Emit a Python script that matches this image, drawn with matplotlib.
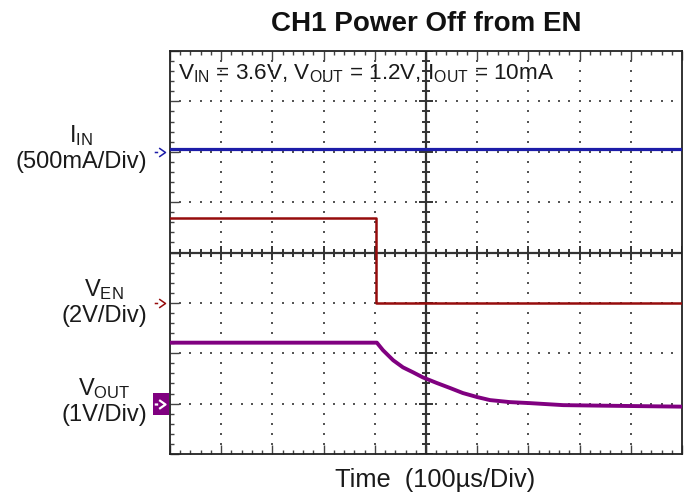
import matplotlib
matplotlib.use('Agg')
import matplotlib.pyplot as plt
import numpy as np
from matplotlib.collections import LineCollection
from matplotlib.patches import Rectangle
from matplotlib.path import Path
from matplotlib.transforms import blended_transform_factory

plt.rcParams['font.family'] = ['Liberation Sans', 'DejaVu Sans']
plt.rcParams['mathtext.fontset'] = 'custom'
plt.rcParams['mathtext.rm'] = 'Liberation Sans'
plt.rcParams['mathtext.it'] = 'Liberation Sans:italic'
plt.rcParams['mathtext.bf'] = 'Liberation Sans:bold'

# ---------------- data ----------------
title = "CH1 Power Off from EN"
conditions = r"V$_\mathregular{IN}$ = 3.6V, V$_\mathregular{OUT}$ = 1.2V, I$_\mathregular{OUT}$ = 10mA"
x_label = "Time  (100\u00b5s/Div)"
ch_labels = [r"I$_\mathregular{IN}$" + "\n(500mA/Div)",
             r"V$_\mathregular{EN}$" + "\n(2V/Div)",
             r"V$_\mathregular{OUT}$" + "\n(1V/Div)"]

# time base: 100 us/div, 10 divisions
time_per_div_us = 100

# IIN channel (mA), 500 mA/div, zero marker at +2 div
iin_time_us = [-500, 500]
iin_mA = [25, 25]
iin_scale, iin_zero_div = 500, 2.0

# VEN channel (V), 2 V/div, zero marker at -1 div
ven_time_us = [-500, -98, -98, 500]
ven_V = [3.35, 3.35, 0.0, 0.0]
ven_scale, ven_zero_div = 2.0, -1.0

# VOUT channel (V), 1 V/div, zero marker at -3 div
vout_time_us = [-500, -96, -84, -64, -45, -25, -6, 21, 47, 72, 100, 125, 164, 203, 268, 340, 500]
vout_V = [1.21, 1.21, 1.06, 0.86, 0.72, 0.62, 0.52, 0.41, 0.31, 0.21, 0.13, 0.07, 0.03, 0.01, -0.03, -0.04, -0.06]
vout_scale, vout_zero_div = 1.0, -3.0

c_iin = '#1c1ca8'
c_ven = '#960c0c'
c_vout = '#800080'

# ---------------- figure ----------------
W, H = 696, 497
fig = plt.figure(figsize=(W / 100, H / 100), dpi=100)
ax_l, ax_r, ax_t, ax_b = 170, 682, 51, 454
ax = fig.add_axes([ax_l / W, (H - ax_b) / H, (ax_r - ax_l) / W, (ax_b - ax_t) / H])

ndx, ndy = 10, 8
xmin, xmax = -ndx / 2 * time_per_div_us, ndx / 2 * time_per_div_us
ax.set_xlim(xmin, xmax)
ax.set_ylim(-ndy / 2, ndy / 2)

# border ticks
ax.set_xticks(np.arange(xmin, xmax + 1, time_per_div_us))
ax.set_xticks(np.arange(xmin, xmax + 1, time_per_div_us / 5), minor=True)
ax.set_yticks(np.arange(-4, 4.01, 1))
ax.set_yticks(np.arange(-4, 4.01, 0.2), minor=True)
ax.tick_params(which='both', direction='in', top=True, right=True,
               labelbottom=False, labelleft=False, color='#444444', width=1)
ax.tick_params(which='major', length=6.5)
ax.tick_params(which='minor', length=3)
for s in ax.spines.values():
    s.set_color('#222222')
    s.set_linewidth(1.3)

# dotted grid
px_x = (ax_r - ax_l) / (xmax - xmin)  # px per us
px_y = (ax_b - ax_t) / ndy            # px per div
dots_x, dots_y = [], []
for gx in np.arange(xmin + time_per_div_us, xmax, time_per_div_us):
    if abs(gx) < 1e-9:
        continue
    ys = np.arange(-4, 4.001, 0.2)[1:-1]
    dots_x += [gx] * len(ys)
    dots_y += list(ys)
for gy in np.arange(-3, 3.01, 1):
    if abs(gy) < 1e-9:
        continue
    xs = np.arange(xmin, xmax + 0.1, time_per_div_us / 5)[1:-1]
    dots_x += list(xs)
    dots_y += [gy] * len(xs)
ax.scatter(dots_x, dots_y, s=2.6, marker='s', color='#555555', linewidths=0, zorder=1)

# center axes with ticks
ax.axhline(0, color='#333333', lw=1.6, zorder=2)
ax.axvline(0, color='#333333', lw=1.6, zorder=2)
segs = []
for i, tx in enumerate(np.arange(xmin, xmax + 0.1, time_per_div_us / 5)):
    h = (7 if i % 5 == 0 else 4) / px_y
    segs.append([(tx, -h), (tx, h)])
for i, ty in enumerate(np.arange(-4, 4.001, 0.2)):
    w = (7 if i % 5 == 0 else 4) / px_x
    segs.append([(-w, ty), (w, ty)])
ax.add_collection(LineCollection(segs, colors='#333333', linewidths=1.4, zorder=2))

# channel axes
def channel_axes(scale, zero_div):
    a = ax.twinx()
    a.set_ylim((-ndy / 2 - zero_div) * scale, (ndy / 2 - zero_div) * scale)
    a.set_axis_off()
    return a

a_iin = channel_axes(iin_scale, iin_zero_div)
a_ven = channel_axes(ven_scale, ven_zero_div)
a_vout = channel_axes(vout_scale, vout_zero_div)

a_iin.plot(iin_time_us, iin_mA, color=c_iin, lw=2.3)
a_ven.plot(ven_time_us, ven_V, color=c_ven, lw=1.8)
a_vout.plot(vout_time_us, vout_V, color=c_vout, lw=2.8)

# ground markers "->"
arrow_path = Path([(-1.0, 0.0), (-0.68, 0.0), (-0.59, 0.41), (0.0, 0.0), (-0.59, -0.41)],
                  [Path.MOVETO, Path.LINETO, Path.MOVETO, Path.LINETO, Path.LINETO])
tr = blended_transform_factory(ax.transAxes, ax.transData)
mk_x = (165 - ax_l) / (ax_r - ax_l)
bw, bh = 16 / (ax_r - ax_l), 22 / px_y
ax.add_patch(Rectangle(((153 - ax_l) / (ax_r - ax_l), vout_zero_div - bh / 2), bw, bh,
                       transform=tr, facecolor=c_vout, edgecolor='none', clip_on=False, zorder=3))
for yz, col, mew in [(iin_zero_div, c_iin, 1.1), (ven_zero_div, c_ven, 1.1),
                     (vout_zero_div, 'white', 1.6)]:
    ax.plot([mk_x], [yz], transform=tr, marker=arrow_path, markersize=15.5,
            markerfacecolor='none', markeredgecolor=col, markeredgewidth=mew,
            linestyle='none', clip_on=False, zorder=4)

# channel labels
lab_x = (147 - ax_l) / (ax_r - ax_l)
for lab, yy in zip(ch_labels, [2.07, -0.98, -2.95]):
    ax.text(lab_x, yy, lab, transform=tr, ha='right', va='center', multialignment='center',
            fontsize=17, color='#1a1a1a', linespacing=1.15)

# conditions
ax.text((178 - ax_l) / (ax_r - ax_l), (ax_b - 79) / (ax_b - ax_t), conditions,
        transform=ax.transAxes, ha='left', va='baseline', fontsize=16.2, color='#1a1a1a')

# title and x label
fig.text(426 / W, (H - 31) / H, title, ha='center', va='baseline',
         fontsize=20, fontweight='bold', color='#111111')
fig.text(435 / W, (H - 487) / H, x_label, ha='center', va='baseline',
         fontsize=18.3, color='#1a1a1a')

fig.savefig('out.png', dpi=100)
